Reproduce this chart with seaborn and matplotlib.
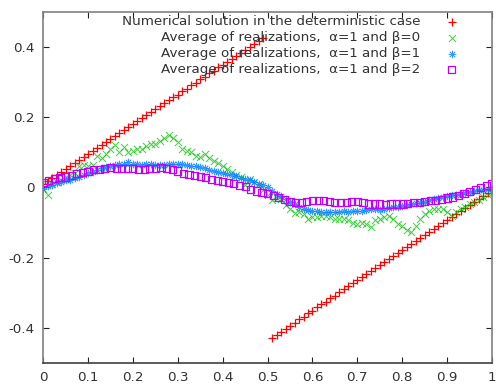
import numpy as np
import pandas as pd
import seaborn as sns
import matplotlib.pyplot as plt
from matplotlib.ticker import FuncFormatter

# deterministic solution (two branches, step 0.01)
red_up = [0.010, 0.019, 0.027, 0.036, 0.044, 0.053, 0.061, 0.070, 0.078, 0.087,
          0.095, 0.104, 0.112, 0.121, 0.129, 0.138, 0.146, 0.155, 0.163, 0.172,
          0.180, 0.189, 0.197, 0.206, 0.214, 0.223, 0.231, 0.240, 0.248, 0.257,
          0.265, 0.274, 0.282, 0.291, 0.299, 0.308, 0.316, 0.325, 0.333, 0.342,
          0.350, 0.359, 0.367, 0.376, 0.384, 0.393, 0.401, 0.410, 0.418, 0.427]
red_lo = [-0.428, -0.419, -0.411, -0.402, -0.394, -0.385, -0.376, -0.368, -0.359, -0.351,
          -0.342, -0.333, -0.325, -0.316, -0.308, -0.299, -0.290, -0.282, -0.273, -0.265,
          -0.256, -0.247, -0.239, -0.230, -0.222, -0.213, -0.204, -0.196, -0.187, -0.179,
          -0.170, -0.161, -0.153, -0.144, -0.136, -0.127, -0.118, -0.110, -0.101, -0.093,
          -0.084, -0.075, -0.067, -0.058, -0.050, -0.041, -0.032, -0.024, -0.015, -0.007]

# beta = 0 (step 0.01)
green = [-0.005, -0.020, 0.010, 0.015, 0.020, 0.030, 0.035, 0.040, 0.060, 0.065,
         0.060, 0.065, 0.090, 0.085, 0.095, 0.110, 0.120, 0.100, 0.115, 0.100,
         0.105, 0.110, 0.110, 0.118, 0.125, 0.125, 0.132, 0.140, 0.150, 0.140,
         0.130, 0.110, 0.105, 0.100, 0.090, 0.087, 0.095, 0.085, 0.075, 0.070,
         0.060, 0.053, 0.045, 0.035, 0.030, 0.008, 0.025, 0.015, 0.010, -0.008,
         -0.020, -0.037, -0.030, -0.033, -0.050, -0.060, -0.072, -0.070, -0.075, -0.090,
         -0.085, -0.085, -0.080, -0.080, -0.085, -0.090, -0.090, -0.090, -0.094, -0.100,
         -0.104, -0.100, -0.105, -0.113, -0.094, -0.090, -0.085, -0.080, -0.090, -0.104,
         -0.110, -0.120, -0.128, -0.110, -0.090, -0.075, -0.066, -0.062, -0.060, -0.061,
         -0.070, -0.080, -0.070, -0.062, -0.055, -0.047, -0.040, -0.035, -0.028, -0.020,
         -0.015]

# beta = 1 (step 0.01)
blue = [-0.005, 0.005, 0.008, 0.012, 0.015, 0.020, 0.022, 0.027, 0.030, 0.035,
        0.040, 0.045, 0.050, 0.055, 0.058, 0.060, 0.063, 0.066, 0.068, 0.072,
        0.068, 0.066, 0.065, 0.066, 0.067, 0.064, 0.063, 0.065, 0.066, 0.067,
        0.066, 0.067, 0.063, 0.062, 0.060, 0.058, 0.055, 0.050, 0.047, 0.044,
        0.041, 0.038, 0.035, 0.032, 0.028, 0.025, 0.020, 0.016, 0.010, 0.006,
        0.000, -0.010, -0.018, -0.025, -0.033, -0.042, -0.048, -0.055, -0.060, -0.064,
        -0.066, -0.068, -0.070, -0.070, -0.071, -0.070, -0.070, -0.068, -0.069, -0.067,
        -0.066, -0.066, -0.064, -0.062, -0.061, -0.063, -0.060, -0.058, -0.057, -0.055,
        -0.053, -0.050, -0.047, -0.045, -0.043, -0.040, -0.037, -0.033, -0.030, -0.027,
        -0.025, -0.022, -0.020, -0.018, -0.015, -0.013, -0.010, -0.008, -0.006, -0.004,
        -0.003]

# beta = 2 (step 0.0125)
purple = [0.015, 0.020, 0.025, 0.028, 0.030, 0.035, 0.039, 0.042, 0.046, 0.050,
          0.052, 0.055, 0.057, 0.055, 0.054, 0.053, 0.054, 0.052, 0.050, 0.053,
          0.055, 0.057, 0.055, 0.052, 0.047, 0.040, 0.037, 0.034, 0.032, 0.028,
          0.022, 0.019, 0.016, 0.014, 0.011, 0.006, 0.002, -0.005, -0.010, -0.013,
          -0.017, -0.023, -0.028, -0.033, -0.040, -0.043, -0.042, -0.039, -0.037, -0.037,
          -0.037, -0.040, -0.042, -0.042, -0.042, -0.039, -0.039, -0.043, -0.047, -0.047,
          -0.047, -0.048, -0.047, -0.047, -0.047, -0.046, -0.044, -0.042, -0.040, -0.038,
          -0.036, -0.033, -0.030, -0.027, -0.023, -0.018, -0.012, -0.006, 0.000, 0.006,
          0.011]

labels = ["Numerical solution in the deterministic case",
          "Average of realizations,  \u03b1=1 and \u03b2=0",
          "Average of realizations,  \u03b1=1 and \u03b2=1",
          "Average of realizations,  \u03b1=1 and \u03b2=2"]

x_red = np.concatenate([np.linspace(0, 0.49, len(red_up)), np.linspace(0.51, 1.0, len(red_lo))])
df_red = pd.DataFrame({"x": x_red, "y": red_up + red_lo})
df_green = pd.DataFrame({"x": np.linspace(0, 1, len(green)), "y": green})
df_blue = pd.DataFrame({"x": np.linspace(0, 1, len(blue)), "y": blue})
df_purple = pd.DataFrame({"x": np.linspace(0, 1, len(purple)), "y": purple})

sns.set_style("ticks")
plt.rcParams["font.family"] = ["DejaVu Sans"]
plt.rcParams["axes.unicode_minus"] = False

fig = plt.figure(figsize=(4.96, 3.89), dpi=100)
ax = fig.add_axes([0.087, 0.067, 0.905, 0.902])

sns.scatterplot(data=df_red, x="x", y="y", marker="+", s=30, color="#ff0000",
                linewidth=0.9, ax=ax, label=labels[0])
sns.scatterplot(data=df_green, x="x", y="y", marker="x", s=26, color="#00c000",
                linewidth=0.7, alpha=0.75, ax=ax, label=labels[1])
sns.scatterplot(data=df_blue, x="x", y="y", marker=(8, 2, 0), s=24, color="#0080ff",
                edgecolor="#0080ff", linewidth=0.6, alpha=0.8, ax=ax, label=labels[2])
sns.scatterplot(data=df_purple, x="x", y="y", marker="s", s=26, facecolor="none",
                edgecolor="#c000ff", linewidth=0.9, ax=ax, label=labels[3])

ax.set_xlim(0, 1)
ax.set_ylim(-0.5, 0.5)
ax.set_xticks(np.arange(0, 1.01, 0.1))
ax.set_yticks([-0.4, -0.2, 0, 0.2, 0.4])
fmt = FuncFormatter(lambda v, p: "%g" % round(v, 2))
ax.xaxis.set_major_formatter(fmt)
ax.yaxis.set_major_formatter(fmt)
ax.set_xlabel("")
ax.set_ylabel("")
ax.tick_params(direction="in", length=4, width=0.8, top=True, right=True,
               labelsize=9.7, labelcolor="#333333", color="#222222", pad=6)
for sp in ax.spines.values():
    sp.set_color("#808080")
    sp.set_linewidth(1.2)
ax.spines["bottom"].set_color("#404040")

leg = ax.legend(loc="upper right", bbox_to_anchor=(0.933, 0.991), frameon=False,
                markerfirst=False, scatterpoints=1, fontsize=9.7, handlelength=1.5,
                handletextpad=1.6, labelspacing=0.22, borderaxespad=0, borderpad=0)
for t in leg.get_texts():
    t.set_color("#333333")

fig.savefig("out.png", dpi=100)
